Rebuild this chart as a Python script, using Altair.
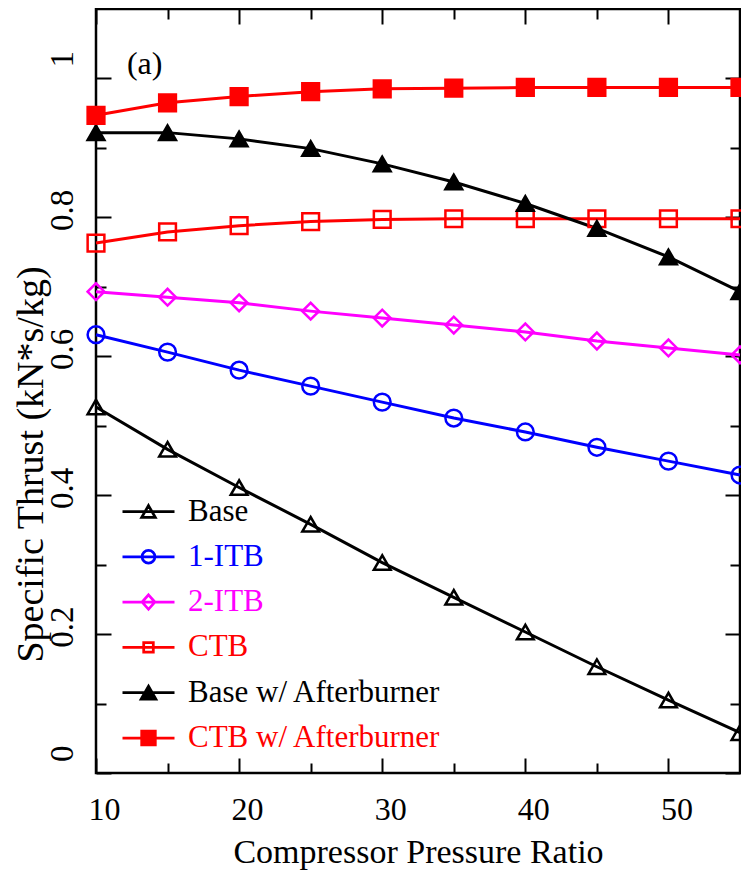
import altair as alt
import pandas as pd

# ---------------- data ----------------
pressure_ratio = [10, 15, 20, 25, 30, 35, 40, 45, 50, 55]
series_names = ["Base", "1-ITB", "2-ITB", "CTB", "Base w/ Afterburner", "CTB w/ Afterburner"]
thrust_base = [0.527, 0.466, 0.411, 0.358, 0.303, 0.253, 0.203, 0.153, 0.105, 0.058]
thrust_1itb = [0.631, 0.606, 0.580, 0.557, 0.534, 0.511, 0.491, 0.469, 0.449, 0.429]
thrust_2itb = [0.693, 0.685, 0.677, 0.665, 0.655, 0.645, 0.635, 0.622, 0.612, 0.602]
thrust_ctb = [0.763, 0.779, 0.788, 0.794, 0.797, 0.798, 0.798, 0.798, 0.798, 0.798]
thrust_base_ab = [0.922, 0.922, 0.913, 0.899, 0.877, 0.851, 0.820, 0.784, 0.743, 0.693]
thrust_ctb_ab = [0.947, 0.965, 0.974, 0.981, 0.985, 0.986, 0.987, 0.987, 0.987, 0.987]

series_colors = ["#000000", "#0000ff", "#ff00ff", "#ff0000", "#000000", "#ff0000"]
marker_shapes = ["triangle-up", "circle", "diamond", "square", "triangle-up", "square"]
marker_fills = ["transparent", "transparent", "transparent", "transparent", "#000000", "#ff0000"]

x_major_ticks = [10, 20, 30, 40, 50]
x_minor_ticks = [15, 25, 35, 45, 55]
y_major_ticks = [0, 0.2, 0.4, 0.6, 0.8, 1.0]
y_minor_ticks = [0.1, 0.3, 0.5, 0.7, 0.9]

panel_label = ["(a)"]
panel_label_x = [13.4]
panel_label_y = [1.006]

# legend symbols: a short line with the marker on it (unit = 8 px)
legend_line = "M-3.25,0H3.25"
legend_marker_paths = [
    "M0,-0.74L0.85,0.74L-0.85,0.74Z",
    "M0.8,0A0.8,0.8 0 1,1 -0.8,0A0.8,0.8 0 1,1 0.8,0Z",
    "M0,-0.9L0.8,0L0,0.9L-0.8,0Z",
    "M-0.6,-0.6H0.6V0.6H-0.6Z",
    "M0,-0.8L0.92,0.8L-0.92,0.8Z",
    "M-0.85,-0.85H0.85V0.85H-0.85Z",
]
legend_paths = [legend_line + " " + m for m in legend_marker_paths]

rows = []
for name, vals in zip(series_names, [thrust_base, thrust_1itb, thrust_2itb,
                                     thrust_ctb, thrust_base_ab, thrust_ctb_ab]):
    for xv, yv in zip(pressure_ratio, vals):
        rows.append({"series": name, "ratio": xv, "thrust": yv})
df = pd.DataFrame(rows)
label_df = pd.DataFrame({"text": panel_label, "px": panel_label_x, "py": panel_label_y})

FONT = "Liberation Serif"

x_scale = alt.Scale(domain=[10, 55], nice=False, zero=False)
y_scale = alt.Scale(domain=[0, 1.1], nice=False, zero=False)


def tick_axis(orient, values, size, **kw):
    base = dict(orient=orient, values=values, tickSize=size, offset=-size,
                domain=False, grid=False, ticks=True, tickColor="black",
                tickWidth=2, labelOverlap=False)
    base.update(kw)
    return alt.Axis(**base)


bottom_major = tick_axis(
    "bottom", x_major_ticks, 15, labels=True, format="d",
    labelFont=FONT, labelFontSize=32, labelColor="black", labelOffset=8,
    labelPadding=21, labelBaseline="top", labelAlign="center",
    title="Compressor Pressure Ratio", titleFont=FONT, titleFontSize=34,
    titleFontWeight="normal", titleColor="black", titleBaseline="alphabetic",
    titleY=104)
left_major = tick_axis(
    "left", y_major_ticks, 15, labels=True, format="~g",
    labelFont=FONT, labelFontSize=33, labelColor="black", labelAngle=270,
    labelAlign="right", labelBaseline="bottom", labelOffset=-28, labelPadding=17,
    title="Specific Thrust (kN*s/kg)", titleFont=FONT, titleFontSize=38,
    titleFontWeight="normal", titleColor="black", titleAngle=270,
    titleBaseline="alphabetic", titleAlign="center", titleX=-69, titleY=455)
bottom_minor = tick_axis("bottom", x_minor_ticks, 10, labels=False, title="")
left_minor = tick_axis("left", y_minor_ticks, 10, labels=False, title="")
top_major = tick_axis("top", x_major_ticks, 15, labels=False, title="")
right_major = tick_axis("right", y_major_ticks, 15, labels=False, title="")
top_minor = tick_axis("top", x_minor_ticks, 10, labels=False, title="")
right_minor = tick_axis("right", y_minor_ticks, 10, labels=False, title="")

color_expr = " : ".join(
    f"datum.label === '{n}' ? '{c}'" for n, c in zip(series_names[:-1], series_colors[:-1])
) + f" : '{series_colors[-1]}'"

leg = alt.Legend(
    orient="none", legendX=37, legendY=487, title=None, padding=0,
    symbolSize=256, symbolStrokeWidth=2.75, symbolOpacity=1,
    symbolFillColor="transparent", symbolOffset=0,
    labelFont=FONT, labelFontSize=31, labelOffset=24,
    labelColor=alt.ExprRef(color_expr), rowPadding=13.3, labelLimit=400,
)

lines = alt.Chart(df).mark_line(strokeWidth=3).encode(
    x=alt.X("ratio:Q", scale=x_scale, axis=bottom_major),
    y=alt.Y("thrust:Q", scale=y_scale, axis=left_major),
    color=alt.Color("series:N", scale=alt.Scale(domain=series_names, range=series_colors),
                    legend=None),
)

points = alt.Chart(df).mark_point(filled=False, size=280, strokeWidth=2.5, opacity=1).encode(
    x=alt.X("ratio:Q", scale=x_scale, axis=bottom_minor),
    y=alt.Y("thrust:Q", scale=y_scale, axis=left_minor),
    color=alt.Color("series:N", scale=alt.Scale(domain=series_names, range=series_colors),
                    legend=None),
    shape=alt.Shape("series:N", scale=alt.Scale(domain=series_names, range=marker_shapes),
                    legend=None),
    fill=alt.Fill("series:N", scale=alt.Scale(domain=series_names, range=marker_fills),
                  legend=None),
)

legend_layer = alt.Chart(df).mark_point(filled=False, opacity=0).encode(
    x=alt.X("ratio:Q", scale=x_scale, axis=top_major),
    y=alt.Y("thrust:Q", scale=y_scale, axis=right_major),
    color=alt.Color("series:N", scale=alt.Scale(domain=series_names, range=series_colors),
                    legend=leg),
    shape=alt.Shape("series:N", scale=alt.Scale(domain=series_names, range=legend_paths),
                    legend=leg),
    fill=alt.Fill("series:N", scale=alt.Scale(domain=series_names, range=marker_fills),
                  legend=leg),
)

text = alt.Chart(label_df).mark_text(font=FONT, fontSize=32, baseline="alphabetic",
                                     align="center", color="black").encode(
    x=alt.X("px:Q", scale=x_scale, axis=top_minor),
    y=alt.Y("py:Q", scale=y_scale, axis=right_minor),
    text="text:N",
)

chart = alt.layer(lines, points, legend_layer, text).resolve_scale(
    color="independent", shape="independent", fill="independent"
).resolve_axis(
    x="independent", y="independent"
).properties(
    width=644, height=764,
    autosize=alt.AutoSizeParams(type="none"),
    padding={"left": 88, "top": 1, "right": 1, "bottom": 100},
    background="white",
).configure_view(stroke="black", strokeWidth=2.5)

chart.save("out.html", embed_options={"renderer": "svg", "actions": False})
